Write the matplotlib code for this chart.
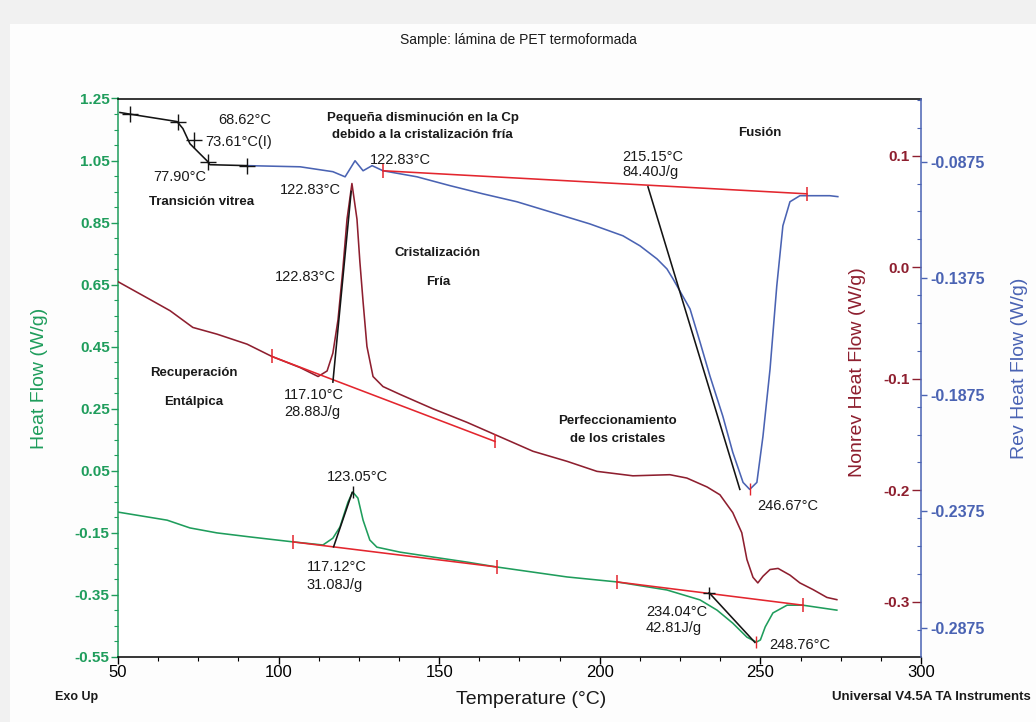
import numpy as np
import matplotlib
matplotlib.use('Agg')
import matplotlib.pyplot as plt
from matplotlib.patches import Rectangle
from matplotlib.ticker import MultipleLocator

plt.rcParams['font.family'] = ['Liberation Sans', 'DejaVu Sans']

# Total heat flow (green, left axis)
hf_temp = [50.0, 65.3, 72.4, 80.8, 91.1, 104.5, 113.8, 116.9, 119.1, 121.6, 123.05, 124.7,
           126.3, 128.4, 130.6, 137.8, 148.1, 158.6, 168.0, 189.8, 205.3, 220.9, 231.2,
           236.5, 241.4, 245.8, 248.76, 250.0, 251.5, 253.9, 258.3, 263.2, 273.8]
hf_val = [-0.083, -0.109, -0.134, -0.150, -0.163, -0.179, -0.189, -0.167, -0.131, -0.051, -0.018, -0.038,
          -0.109, -0.173, -0.196, -0.212, -0.228, -0.244, -0.260, -0.292, -0.308, -0.334, -0.366,
          -0.399, -0.441, -0.486, -0.502, -0.495, -0.453, -0.408, -0.383, -0.383, -0.399]

# Nonreversing heat flow (dark red, first right axis)
nr_temp = [50.0, 60.0, 66.2, 73.3, 80.8, 90.2, 97.9, 106.7, 112.3, 115.1, 116.9, 118.5, 120.0,
           121.3, 122.83, 124.4, 125.3, 126.3, 127.5, 129.4, 132.5, 137.8, 148.1, 158.6, 168.9,
           179.2, 189.8, 199.1, 210.3, 221.8, 227.1, 233.4, 237.4, 241.4, 244.2, 245.8, 247.7,
           249.2, 250.8, 253.0, 255.5, 259.2, 262.3, 266.4, 270.7, 273.8]
nr_val = [-0.013, -0.029, -0.039, -0.054, -0.060, -0.069, -0.080, -0.090, -0.098, -0.093, -0.077, -0.047, -0.002,
          0.043, 0.075, 0.043, 0.005, -0.031, -0.071, -0.098, -0.107, -0.114, -0.127, -0.139, -0.152,
          -0.165, -0.174, -0.183, -0.187, -0.186, -0.189, -0.197, -0.204, -0.220, -0.238, -0.262, -0.278,
          -0.283, -0.277, -0.271, -0.270, -0.276, -0.283, -0.289, -0.296, -0.298]

# Reversing heat flow (blue, second right axis)
rev_temp = [50.6, 52.8, 68.4, 70.2, 72.4, 75.5, 77.7, 78.6, 90.2, 106.7, 116.9, 120.7, 123.8,
            126.3, 129.1, 132.5, 143.1, 153.4, 163.6, 174.2, 184.5, 196.9, 207.2, 212.5, 217.8,
            220.9, 222.8, 228.1, 231.2, 234.3, 238.3, 241.4, 244.6, 246.67, 248.9, 250.8, 253.0,
            255.1, 257.0, 259.2, 262.3, 271.6, 274.1]
rev_val = [-0.0664, -0.0669, -0.0703, -0.0733, -0.0798, -0.0841, -0.0871, -0.0888, -0.0892, -0.0897, -0.0918, -0.0940, -0.0871,
           -0.0914, -0.0892, -0.0914, -0.0940, -0.0978, -0.1013, -0.1047, -0.1090, -0.1142, -0.1193, -0.1236, -0.1292,
           -0.1335, -0.1378, -0.1507, -0.1649, -0.1795, -0.1967, -0.2122, -0.2251, -0.2281, -0.2251, -0.2053, -0.1765,
           -0.1408, -0.1150, -0.1047, -0.1021, -0.1021, -0.1025]

t_ticks = [50, 100, 150, 200, 250, 300]
hf_ticks = [1.25, 1.05, 0.85, 0.65, 0.45, 0.25, 0.05, -0.15, -0.35, -0.55]
hf_labels = ['1.25', '1.05', '0.85', '0.65', '0.45', '0.25', '0.05', '-0.15', '-0.35', '-0.55']
nr_ticks = [0.1, 0.0, -0.1, -0.2, -0.3]
nr_labels = ['0.1', '0.0', '-0.1', '-0.2', '-0.3']
rev_ticks = [-0.0875, -0.1375, -0.1875, -0.2375, -0.2875]
rev_labels = ['-0.0875', '-0.1375', '-0.1875', '-0.2375', '-0.2875']

# analysis marks: baselines (red), tangents (black)
tg_marks_t = [53.7, 68.62, 73.61, 77.9, 90.2]
tg_marks_v = [-0.0669, -0.0703, -0.0780, -0.0875, -0.0892]
rev_base_t = [132.5, 264.5]
rev_base_v = [-0.0914, -0.1013]
rev_tan_t = [215.0, 243.6]
rev_tan_v = [-0.0983, -0.2281]
nr_base_t = [97.9, 167.4]
nr_base_v = [-0.080, -0.1562]
nr_tan_t = [116.9, 122.6]
nr_tan_v = [-0.103, 0.068]
hf_base1_t = [104.5, 168.0]
hf_base1_v = [-0.179, -0.260]
hf_tan1_t = [117.12, 122.9]
hf_tan1_v = [-0.195, -0.020]
hf_base2_t = [205.3, 263.2]
hf_base2_v = [-0.308, -0.383]
hf_tan2_t = [234.04, 248.3]
hf_tan2_v = [-0.343, -0.503]

# text, T, heat flow level, alignment, bold
notes = [
    ('68.62°C', 81.1, 1.180, 'left', False),
    ('73.61°C(I)', 77.1, 1.110, 'left', False),
    ('77.90°C', 60.9, 0.997, 'left', False),
    ('Transición vitrea', 59.7, 0.916, 'left', True),
    ('Pequeña disminución en la Cp', 115.1, 1.187, 'left', True),
    ('debido a la cristalización fría', 116.6, 1.132, 'left', True),
    ('122.83°C', 128.5, 1.052, 'left', False),
    ('122.83°C', 100.4, 0.955, 'left', False),
    ('Fusión', 243.0, 1.139, 'left', True),
    ('215.15°C', 206.9, 1.061, 'left', False),
    ('84.40J/g', 206.9, 1.013, 'left', False),
    ('Cristalización', 149.6, 0.752, 'center', True),
    ('Fría', 149.6, 0.659, 'center', True),
    ('122.83°C', 98.9, 0.675, 'left', False),
    ('Recuperación', 73.7, 0.365, 'center', True),
    ('Entálpica', 73.7, 0.272, 'center', True),
    ('117.10°C', 101.7, 0.294, 'left', False),
    ('28.88J/g', 101.7, 0.240, 'left', False),
    ('Perfeccionamiento', 205.5, 0.210, 'center', True),
    ('de los cristales', 205.5, 0.152, 'center', True),
    ('246.67°C', 248.9, -0.063, 'left', False),
    ('123.05°C', 115.1, 0.030, 'left', False),
    ('117.12°C', 108.8, -0.260, 'left', False),
    ('31.08J/g', 108.8, -0.318, 'left', False),
    ('234.04°C', 214.4, -0.405, 'left', False),
    ('42.81J/g', 214.4, -0.457, 'left', False),
    ('248.76°C', 252.6, -0.511, 'left', False),
]

GREEN = '#1f9d5c'
DRED = '#8e1f2f'
RED = '#e3262e'
BLUE = '#4a63b3'
BLACK = '#141414'
LW = 1.15

fig = plt.figure(figsize=(10.36, 7.22), dpi=100, facecolor='#f1f1f1')
fig.patches.append(Rectangle((10 / 1036, 0), 1, 1 - 24 / 722, transform=fig.transFigure,
                             facecolor='#fdfdfd', edgecolor='none', zorder=-10))

ax = fig.add_axes([118 / 1036, 65 / 722, 803 / 1036, 558.5 / 722])
ax_nr = ax.twinx()
ax_rev = ax.twinx()

# total heat flow
ax.plot(hf_temp, hf_val, color=GREEN, lw=LW)
ax.plot(hf_base1_t, hf_base1_v, color=RED, lw=LW, marker='|', ms=10, mew=1.1)
ax.plot(hf_base2_t, hf_base2_v, color=RED, lw=LW, marker='|', ms=10, mew=1.1)
ax.plot(hf_tan1_t, hf_tan1_v, color=BLACK, lw=LW)
ax.plot(hf_tan2_t, hf_tan2_v, color=BLACK, lw=LW)
ax.plot([234.04], [-0.343], color=BLACK, marker='+', ms=9, mew=1.0)
ax.plot([123.05], [-0.018], color=BLACK, marker='|', ms=9, mew=1.0)
ax.plot([248.76], [-0.502], color=RED, marker='|', ms=9, mew=1.0)

# nonreversing
ax_nr.plot(nr_temp, nr_val, color=DRED, lw=LW)
ax_nr.plot(nr_base_t, nr_base_v, color=RED, lw=LW, marker='|', ms=10, mew=1.1)
ax_nr.plot(nr_tan_t, nr_tan_v, color=BLACK, lw=LW)

# reversing, glass transition part drawn black
rt = np.array(rev_temp)
rv = np.array(rev_val)
ax_rev.plot(rt[rt >= 90.2], rv[rt >= 90.2], color=BLUE, lw=LW)
ax_rev.plot(rt[rt <= 90.2], rv[rt <= 90.2], color=BLACK, lw=LW)
ax_rev.plot(tg_marks_t, tg_marks_v, ls='none', color=BLACK, marker='+', ms=11, mew=1.0)
ax_rev.plot(rev_base_t, rev_base_v, color=RED, lw=LW, marker='|', ms=10, mew=1.1)
ax_rev.plot(rev_tan_t, rev_tan_v, color=BLACK, lw=LW)
ax_rev.plot([246.67], [-0.2281], color=RED, marker='|', ms=9, mew=1.0)

# limits
ax.set_xlim(50, 300)
ax.set_ylim(-0.55, 1.25)
ax_nr.set_ylim(-0.3494, 0.1512)
ax_rev.set_ylim(-0.300, -0.0604)

# left axis
ax.set_yticks(hf_ticks, labels=hf_labels)
ax.yaxis.set_minor_locator(MultipleLocator(0.05))
ax.tick_params(axis='y', which='major', colors=GREEN, length=5, width=1, labelsize=11, pad=1)
ax.tick_params(axis='y', which='minor', colors=GREEN, length=3, width=0.8)
for lab in ax.get_yticklabels():
    lab.set_fontweight('bold')
ax.set_xticks(t_ticks)
ax.xaxis.set_minor_locator(MultipleLocator(12.5))
ax.tick_params(axis='x', which='major', length=5, width=1, labelsize=12, pad=1)
ax.tick_params(axis='x', which='minor', length=3, width=0.8)
ax.spines['left'].set_color(GREEN)
ax.spines['right'].set_visible(False)
for s in ['left', 'bottom', 'top']:
    ax.spines[s].set_linewidth(1.1)

# nonrev axis, labels inside the frame
for s in ax_nr.spines.values():
    s.set_visible(False)
ax_nr.set_yticks(nr_ticks, labels=nr_labels)
ax_nr.yaxis.set_minor_locator(MultipleLocator(0.025))
ax_nr.tick_params(axis='y', which='major', direction='in', colors=DRED, length=6.5, width=1,
                  labelsize=11, pad=-8)
ax_nr.tick_params(axis='y', which='minor', direction='in', color=BLUE, length=3, width=0.8)
for lab in ax_nr.get_yticklabels():
    lab.set_horizontalalignment('right')
    lab.set_fontweight('bold')

# rev axis
for s in ['left', 'top', 'bottom']:
    ax_rev.spines[s].set_visible(False)
ax_rev.spines['right'].set_color(BLUE)
ax_rev.spines['right'].set_linewidth(1.1)
ax_rev.set_yticks(rev_ticks, labels=rev_labels)
ax_rev.tick_params(axis='y', which='major', colors=BLUE, length=4.5, width=1, labelsize=11.5, pad=2)
for lab in ax_rev.get_yticklabels():
    lab.set_fontweight('bold')

for txt, t, v, ha, bold in notes:
    ax.text(t, v, txt, ha=ha, va='center', fontsize=10.5 if not bold else 9.5,
            fontweight='bold' if bold else 'normal', color='#1a1a1a', zorder=5)

fig.text(0.5, 1 - 40 / 722, 'Sample: lámina de PET termoformada', ha='center', va='center',
         fontsize=10, color='#1a1a1a')
fig.text(40 / 1036, 1 - 378 / 722, 'Heat Flow (W/g)', rotation=90, ha='center', va='center',
         fontsize=14, color=GREEN)
fig.text(858 / 1036, 1 - 372 / 722, 'Nonrev Heat Flow (W/g)', rotation=90, ha='center', va='center',
         fontsize=14, color=DRED)
fig.text(1020 / 1036, 1 - 368 / 722, 'Rev Heat Flow (W/g)', rotation=90, ha='center', va='center',
         fontsize=14, color=BLUE)
fig.text(531 / 1036, 1 - 699 / 722, 'Temperature (°C)', ha='center', va='center', fontsize=14,
         color='#1a1a1a')
fig.text(55 / 1036, 1 - 697 / 722, 'Exo Up', ha='left', va='center', fontsize=9,
         fontweight='bold', color='#1a1a1a')
fig.text(1031 / 1036, 1 - 697 / 722, 'Universal V4.5A TA Instruments', ha='right', va='center',
         fontsize=9.5, fontweight='bold', color='#1a1a1a')

fig.savefig('out.png', dpi=100, facecolor=fig.get_facecolor())
